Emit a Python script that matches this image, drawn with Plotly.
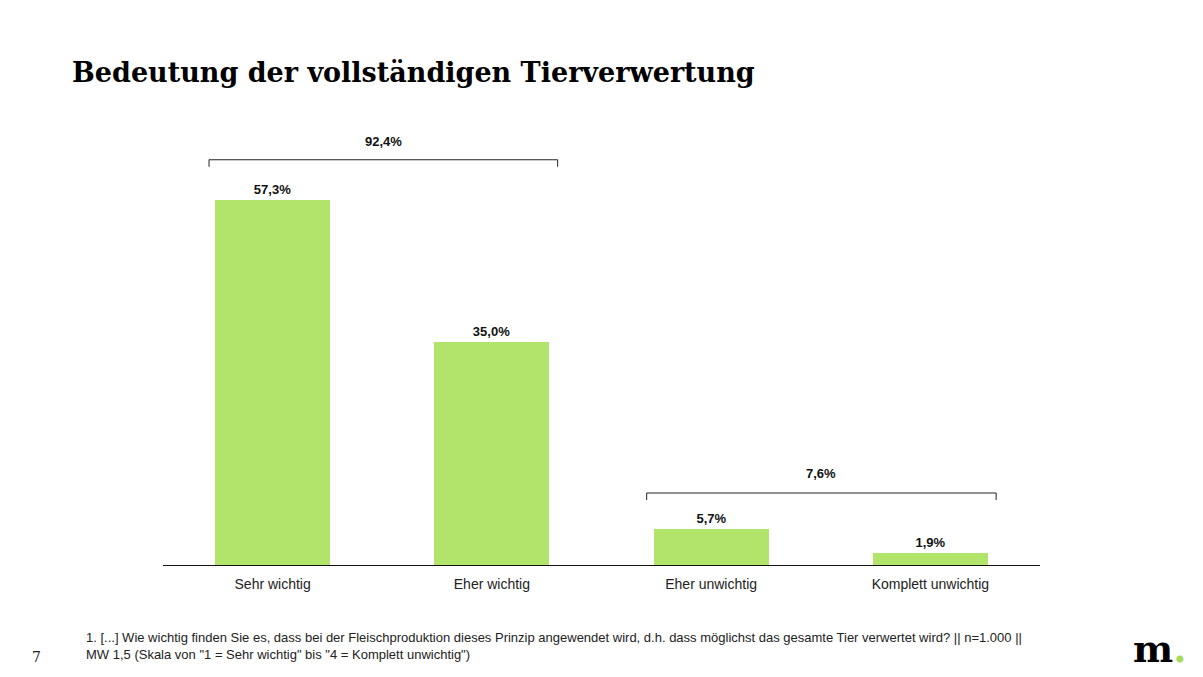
import plotly.graph_objects as go

categories = ["Sehr wichtig", "Eher wichtig", "Eher unwichtig", "Komplett unwichtig"]
values = [57.3, 35.0, 5.7, 1.9]
labels = ["57,3%", "35,0%", "5,7%", "1,9%"]
group_top = "92,4%"
group_bottom = "7,6%"

W, H = 1203, 677
green = "#b2e36a"
sans = "Liberation Sans, Arial, sans-serif"

fig = go.Figure()
fig.add_trace(go.Bar(
    x=list(range(len(categories))), y=values, width=0.525,
    marker=dict(color=green, line=dict(width=0)),
    text=[f"<b>{t}</b>" for t in labels], textposition="outside",
    textfont=dict(family=sans, size=13, color="#111111"),
    cliponaxis=False,
))

def bracket(x0, x1, y, ytick, label, ylab):
    fig.add_shape(type="path", xref="x", yref="y",
                  path=f"M {x0},{ytick} L {x0},{y} L {x1},{y} L {x1},{ytick}",
                  line=dict(color="#222222", width=1))
    fig.add_annotation(x=(x0 + x1) / 2, y=ylab, xref="x", yref="y", text=f"<b>{label}</b>",
                       showarrow=False, font=dict(family=sans, size=13, color="#111111"))

bracket(-0.29, 1.30, 63.6, 62.5, group_top, 66.4)
bracket(1.706, 3.30, 11.3, 10.2, group_bottom, 14.3)

fig.update_layout(
    width=W, height=H, autosize=False,
    margin=dict(l=0, r=0, t=0, b=0),
    paper_bgcolor="white", plot_bgcolor="white",
    showlegend=False, bargap=0,
    xaxis=dict(domain=[163 / W, 1040 / W], range=[-0.5, 3.5], tickmode="array",
               tickvals=list(range(len(categories))), ticktext=categories,
               showgrid=False, zeroline=False, showline=True, linecolor="#111111", linewidth=1,
               ticks="", ticklabelstandoff=6,
               tickfont=dict(family=sans, size=14, color="#222222")),
    yaxis=dict(domain=[(H - 565) / H, (H - 140) / H], range=[0, 66.7], visible=False),
)

# Title
fig.add_annotation(xref="paper", yref="paper", x=70 / W, y=1 - 72 / H, xanchor="left", yanchor="middle",
                   text="<b>Bedeutung der vollständigen Tierverwertung</b>", showarrow=False,
                   font=dict(family="DejaVu Serif, Georgia, serif", size=27, color="#000000"))
# Footnote
fig.add_annotation(xref="paper", yref="paper", x=84 / W, y=1 - 646 / H, xanchor="left", yanchor="middle",
                   align="left", showarrow=False,
                   text="1. [...] Wie wichtig finden Sie es, dass bei der Fleischproduktion dieses Prinzip angewendet wird, d.h. dass möglichst das gesamte Tier verwertet wird? || n=1.000 ||<br>MW 1,5 (Skala von \"1 = Sehr wichtig\" bis \"4 = Komplett unwichtig\")",
                   font=dict(family=sans, size=13, color="#222222"))
# Page number
fig.add_annotation(xref="paper", yref="paper", x=36 / W, y=1 - 657 / H, xanchor="center", yanchor="middle",
                   text="7", showarrow=False,
                   font=dict(family="DejaVu Serif, Georgia, serif", size=14, color="#222222"))
# Logo
fig.add_annotation(xref="paper", yref="paper", x=1131 / W, y=1 - 648 / H, xanchor="left", yanchor="middle",
                   text="<b>m</b><span style='color:#a6dc5a'><b>.</b></span>", showarrow=False,
                   font=dict(family="DejaVu Serif, Georgia, serif", size=38, color="#000000"))

fig.write_html("out.html")
